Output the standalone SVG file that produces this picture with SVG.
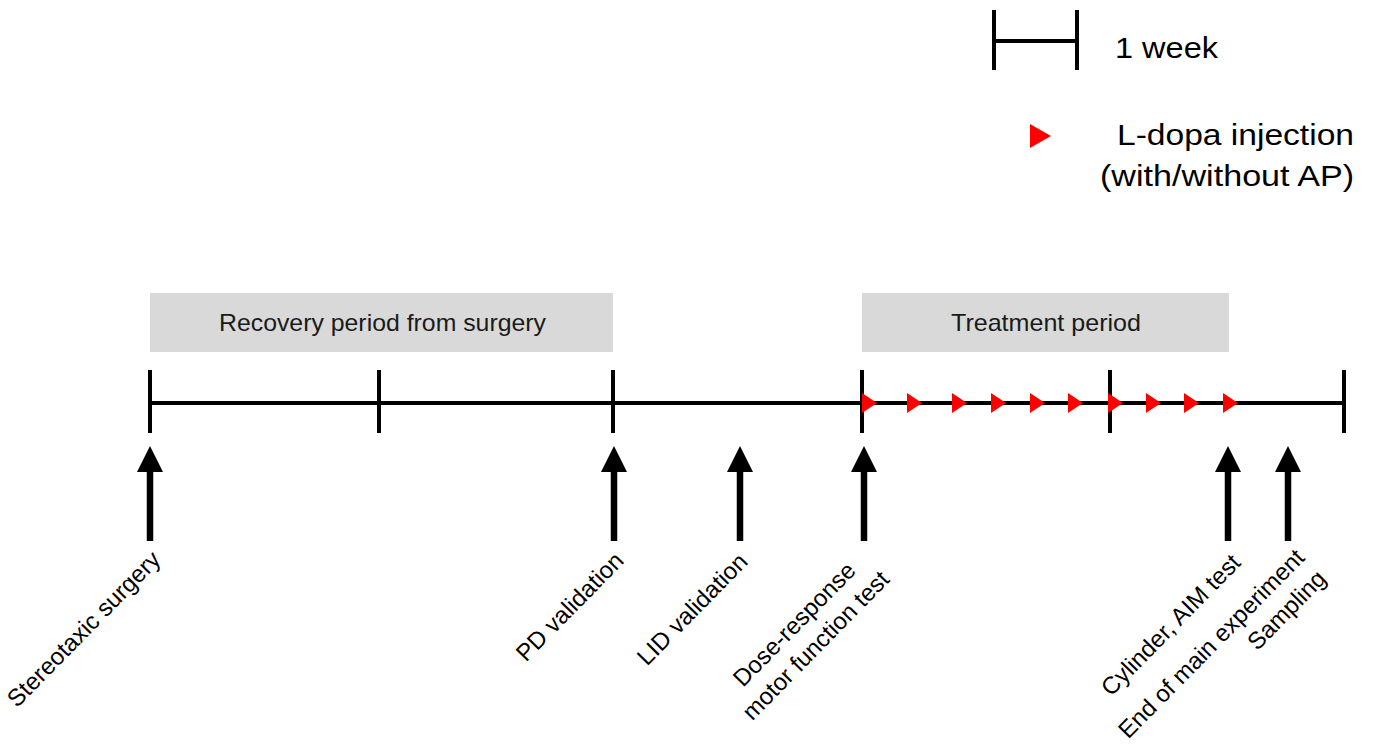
<svg xmlns="http://www.w3.org/2000/svg" width="1373" height="756" viewBox="0 0 1373 756">
<style>
  text { font-family: "Liberation Sans", Arial, sans-serif; fill: #000; }
  .lbl { font-size: 24px; }
  .per { font-size: 24px; fill: #1a1a1a; }
  .big { font-size: 30px; }
  .line { stroke: #000; stroke-width: 4; fill: none; }
  .shaft { stroke: #000; stroke-width: 6.5; fill: none; }
  .period { fill: #d9d9d9; }
  .inj { fill: #ff0000; }
</style>
<defs>
  <polygon id="tri" points="0,-10 15,0 0,10" class="inj"/>
  <g id="arrow">
    <polygon points="0,0 -13,26 13,26" fill="#000"/>
    <line x1="0" y1="24" x2="0" y2="95" class="shaft"/>
  </g>
</defs>

<g id="legend">
  <line x1="994" y1="10" x2="994" y2="70" class="line"/>
  <line x1="1077" y1="10" x2="1077" y2="70" class="line"/>
  <line x1="994" y1="41" x2="1077" y2="41" class="line"/>
  <text x="1115" y="58" class="big" textLength="103" lengthAdjust="spacingAndGlyphs">1 week</text>
  <polygon points="1030,124 1051,136 1030,148" class="inj"/>
  <text x="1117" y="145" class="big" textLength="237" lengthAdjust="spacingAndGlyphs">L-dopa injection</text>
  <text x="1100" y="186" class="big" textLength="254" lengthAdjust="spacingAndGlyphs">(with/without AP)</text>
</g>

<g id="recovery">
  <rect x="150" y="293" width="463" height="59" class="period"/>
  <text x="219" y="331" class="per" textLength="327" lengthAdjust="spacingAndGlyphs">Recovery period from surgery</text>
</g>
<g id="treatment">
  <rect x="862" y="293" width="367" height="59" class="period"/>
  <text x="951" y="331" class="per" textLength="190" lengthAdjust="spacingAndGlyphs">Treatment period</text>
</g>

<g id="timeline">
  <line x1="150" y1="403" x2="1344" y2="403" class="line"/>
  <line x1="150" y1="370" x2="150" y2="433" class="line"/>
  <line x1="379" y1="370" x2="379" y2="433" class="line"/>
  <line x1="613" y1="370" x2="613" y2="433" class="line"/>
  <line x1="862" y1="370" x2="862" y2="433" class="line"/>
  <line x1="1110" y1="370" x2="1110" y2="433" class="line"/>
  <line x1="1344" y1="370" x2="1344" y2="433" class="line"/>
</g>

<g id="injections">
  <use href="#tri" x="862" y="403"/>
  <use href="#tri" x="907" y="403"/>
  <use href="#tri" x="952" y="403"/>
  <use href="#tri" x="991" y="403"/>
  <use href="#tri" x="1030" y="403"/>
  <use href="#tri" x="1068" y="403"/>
  <use href="#tri" x="1108" y="403"/>
  <use href="#tri" x="1146" y="403"/>
  <use href="#tri" x="1184" y="403"/>
  <use href="#tri" x="1223" y="403"/>
</g>

<g id="connectors">
  <use href="#arrow" x="150" y="446"/>
  <use href="#arrow" x="614" y="446"/>
  <use href="#arrow" x="740" y="446"/>
  <use href="#arrow" x="864" y="446"/>
  <use href="#arrow" x="1228" y="446"/>
  <use href="#arrow" x="1288" y="446"/>
</g>

<g id="label-stereotaxic">
  <text class="lbl" text-anchor="end" transform="translate(162,561) rotate(-45.5)">Stereotaxic surgery</text>
</g>
<g id="label-pd">
  <text class="lbl" text-anchor="end" transform="translate(625,562) rotate(-45.5)">PD validation</text>
</g>
<g id="label-lid">
  <text class="lbl" text-anchor="end" transform="translate(749,563) rotate(-45.5)">LID validation</text>
</g>
<g id="label-dose">
  <text class="lbl" text-anchor="middle" transform="translate(800,630) rotate(-45.5)"><tspan x="0" y="0">Dose-response</tspan><tspan x="0" y="30">motor function test</tspan></text>
</g>
<g id="label-cylinder">
  <text class="lbl" text-anchor="end" transform="translate(1242,564) rotate(-45.5)">Cylinder, AIM test</text>
</g>
<g id="label-end">
  <text class="lbl" text-anchor="end" transform="translate(1306,559) rotate(-45.5)"><tspan x="0" y="0">End of main experiment</tspan><tspan x="0" y="30">Sampling</tspan></text>
</g>
</svg>
